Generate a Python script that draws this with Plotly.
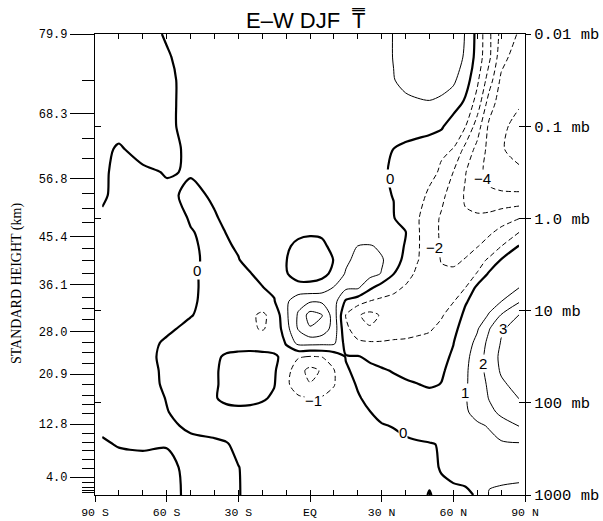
import math
import plotly.graph_objects as go

# Grid of the E-W DJF zonal-mean temperature difference (K)
LAT = [-87, -80, -70, -60, -50, -40, -35, -30, -25, -20, -15, -10, -5, 0, 5,
       10, 15, 20, 25, 30, 35, 40, 45, 50, 55, 60, 65, 70, 75, 80, 87.5]
PRES = [0.01, 0.0178, 0.0316, 0.0562, 0.1, 0.178, 0.316, 0.562, 1.0, 1.41, 2.0,
        2.82, 3.98, 5.62, 7.94, 11.2, 15.8, 22.4, 31.6, 44.7, 63.1, 89.1, 126,
        178, 282, 501, 1000]

T_DIFF = [
    [-0.3, -0.3, -0.2, 0.05, 0.2, 0.3, 0.3, 0.35, 0.35, 0.4, 0.4, 0.45, 0.45, 0.5, 0.5, 0.55, 0.6, 0.65, 0.7, 0.8, 1.02, 1.25, 1.4, 1.5, 1.45, 1.3, 0.98, -0.3, -1.8, -3.3, -4.1],
    [-0.3, -0.3, -0.25, -0.05, 0.2, 0.3, 0.3, 0.35, 0.35, 0.4, 0.4, 0.45, 0.45, 0.5, 0.5, 0.55, 0.6, 0.65, 0.7, 0.8, 1.02, 1.2, 1.3, 1.35, 1.3, 1.2, 0.95, -0.4, -1.8, -3.6, -4.6],
    [-0.3, -0.3, -0.3, -0.1, 0.15, 0.3, 0.3, 0.35, 0.35, 0.4, 0.4, 0.45, 0.45, 0.5, 0.5, 0.55, 0.6, 0.65, 0.7, 0.8, 0.98, 1.15, 1.25, 1.3, 1.2, 1.15, 0.5, -0.8, -2.5, -4.2, -4.7],
    [-0.3, -0.3, -0.3, -0.1, 0.15, 0.3, 0.3, 0.35, 0.35, 0.4, 0.4, 0.45, 0.45, 0.5, 0.5, 0.55, 0.6, 0.65, 0.7, 0.75, 0.8, 0.88, 0.93, 0.96, 0.9, 0.55, -0.2, -1.4, -3.5, -4.5, -4.9],
    [-0.3, -0.3, -0.3, -0.1, 0.15, 0.25, 0.3, 0.3, 0.35, 0.35, 0.4, 0.4, 0.45, 0.45, 0.5, 0.5, 0.5, 0.55, 0.55, 0.55, 0.55, 0.55, 0.5, 0.4, 0.15, -0.6, -0.95, -2.5, -4.2, -4.8, -5.3],
    [-0.2, 0.1, -0.3, -0.15, 0.1, 0.2, 0.25, 0.3, 0.3, 0.35, 0.35, 0.35, 0.35, 0.35, 0.35, 0.35, 0.35, 0.3, 0.25, 0.15, -0.01, -0.25, -0.45, -0.65, -0.85, -1.02, -2.3, -3.3, -4.3, -4.9, -5.4],
    [-0.1, 0.15, 0.15, -0.05, 0.05, 0.15, 0.2, 0.25, 0.25, 0.3, 0.3, 0.3, 0.3, 0.3, 0.3, 0.3, 0.25, 0.2, 0.12, 0.05, -0.05, -0.2, -0.4, -0.7, -1.15, -2.02, -2.95, -3.7, -4.3, -4.6, -4.8],
    [-0.05, 0.1, 0.15, 0.15, -0.15, 0.08, 0.15, 0.2, 0.2, 0.25, 0.25, 0.25, 0.25, 0.25, 0.25, 0.22, 0.2, 0.15, 0.1, 0.05, -0.01, -0.3, -0.6, -1.2, -1.8, -2.4, -3.1, -3.5, -3.8, -3.85, -3.85],
    [0.05, 0.15, 0.2, 0.2, -0.03, -0.05, 0.1, 0.12, 0.15, 0.18, 0.2, 0.2, 0.2, 0.2, 0.2, 0.2, 0.18, 0.15, 0.12, 0.08, 0.03, -0.3, -0.9, -1.6, -2.1, -2.6, -2.9, -2.85, -2.7, -2.4, -2.02],
    [0.1, 0.2, 0.25, 0.25, 0.02, -0.1, 0.01, 0.1, 0.15, 0.15, 0.15, 0.15, 0.15, 0.12, 0.12, 0.12, 0.12, 0.1, 0.08, 0.07, 0.06, 0.03, -0.9, -1.5, -2.15, -2.4, -2.5, -2.45, -2.15, -1.75, -1.02],
    [0.1, 0.2, 0.25, 0.25, 0.05, -0.1, -0.05, 0.05, 0.1, 0.12, 0.1, 0.1, -0.15, -0.3, -0.15, 0.2, 0.4, 1.02, 1.1, 0.8, 0.3, -0.05, -0.9, -1.5, -2.1, -2.3, -2.3, -2.05, -1.6, -1.02, 0.05],
    [0.15, 0.25, 0.3, 0.3, 0.1, -0.15, -0.2, -0.02, 0.15, 0.2, 0.15, 0.02, -0.3, -0.4, -0.3, 0.02, 0.8, 1.3, 1.4, 1.1, 0.45, -0.25, -0.95, -1.5, -2.05, -2.2, -1.95, -1.4, -0.85, 0.05, 0.9],
    [0.15, 0.25, 0.3, 0.3, 0.1, -0.2, -0.3, -0.25, -0.02, 0.15, 0.15, 0.05, -0.3, -0.4, -0.25, 0.2, 1.1, 1.3, 1.35, 0.95, 0.02, -0.6, -1.2, -1.6, -1.85, -1.8, -1.45, -0.95, 0.15, 0.6, 0.95],
    [0.15, 0.25, 0.3, 0.3, 0.1, -0.2, -0.35, -0.4, -0.3, -0.02, 0.15, 0.25, 0.25, 0.3, 0.45, 1.05, 1.2, 1.15, 0.2, -0.45, -0.75, -1.1, -1.4, -1.5, -1.45, -1.25, -1.02, 0.25, 0.6, 0.85, 0.98],
    [0.15, 0.25, 0.3, 0.3, 0.08, -0.2, -0.4, -0.6, -0.6, -0.5, -0.05, 0.8, 1.7, 1.9, 1.85, 1.4, -0.15, -0.6, -1.03, -1.2, -1.3, -1.35, -1.35, -1.3, -1.2, -1.05, -0.1, 0.4, 0.75, 0.98, 1.9],
    [0.15, 0.25, 0.3, 0.3, 0.03, -0.25, -0.45, -0.7, -0.85, -1.15, -0.7, 0.8, 2.1, 3.4, 3.05, 1.5, -1.05, -1.9, -2.3, -1.9, -1.6, -1.4, -1.3, -1.25, -1.1, -0.55, 0.2, 0.65, 1.05, 2.05, 3.02],
    [0.15, 0.25, 0.25, 0.1, -0.15, -0.35, -0.55, -0.75, -0.9, -1.05, -0.8, 0.6, 2.05, 2.9, 2.6, 1.6, -0.8, -1.45, -1.9, -1.75, -1.5, -1.35, -1.2, -1.1, -0.75, -0.2, 0.35, 0.9, 1.95, 2.9, 3.3],
    [0.15, 0.25, 0.2, -0.08, -0.3, -0.4, -0.45, -0.5, -0.5, -0.55, -0.5, 0.05, 1.3, 1.35, 1.3, 1.2, -0.35, -0.85, -0.9, -0.9, -0.85, -0.85, -0.8, -0.7, -0.45, -0.02, 0.55, 1.25, 2.3, 3.05, 3.45],
    [0.15, 0.25, 0.2, -0.15, -0.35, -0.2, 0.15, 0.3, 0.35, 0.3, 0.15, -0.3, -0.9, -1.05, -0.98, -0.6, 0.05, 0.05, -0.15, -0.3, -0.35, -0.4, -0.4, -0.35, -0.2, 0.1, 0.75, 1.45, 2.45, 3.2, 3.5],
    [0.15, 0.25, 0.2, -0.1, -0.35, -0.1, 0.2, 0.35, 0.4, 0.35, 0.1, -0.6, -1.6, -2.3, -1.9, -1.05, -0.1, 0.2, 0.2, 0.08, -0.05, -0.2, -0.3, -0.3, -0.1, 0.25, 0.85, 1.5, 2.4, 3.1, 3.55],
    [0.15, 0.25, 0.25, -0.1, -0.3, -0.1, 0.2, 0.35, 0.4, 0.3, 0.05, -0.8, -1.5, -1.95, -1.7, -1.05, -0.4, 0.1, 0.25, 0.25, 0.2, 0.12, 0.02, -0.1, 0.02, 0.45, 0.9, 1.4, 2.2, 2.85, 3.3],
    [0.15, 0.25, 0.25, -0.02, -0.25, -0.05, 0.15, 0.25, 0.25, 0.12, -0.15, -0.6, -0.85, -0.95, -0.9, -0.75, -0.45, -0.1, 0.25, 0.35, 0.35, 0.35, 0.35, 0.3, 0.4, 0.6, 0.95, 1.35, 2.05, 2.6, 3.02],
    [0.15, 0.25, 0.25, 0.02, -0.2, -0.25, -0.2, -0.2, -0.25, -0.35, -0.45, -0.5, -0.55, -0.55, -0.5, -0.45, -0.35, -0.2, -0.02, 0.2, 0.35, 0.4, 0.45, 0.5, 0.6, 0.75, 0.9, 1.25, 1.75, 2.2, 2.6],
    [0.15, 0.2, 0.25, 0.12, -0.1, -0.2, -0.2, -0.2, -0.25, -0.3, -0.35, -0.35, -0.4, -0.4, -0.35, -0.35, -0.3, -0.25, -0.15, -0.05, 0.03, 0.2, 0.35, 0.45, 0.55, 0.65, 0.8, 0.88, 1.05, 1.6, 2.02],
    [-0.1, 0.05, 0.1, 0.02, 0.15, 0.1, 0.03, -0.1, -0.2, -0.25, -0.25, -0.3, -0.3, -0.3, -0.3, -0.3, -0.3, -0.3, -0.3, -0.25, -0.2, -0.15, -0.1, -0.05, 0.05, 0.3, 0.55, 0.7, 0.8, 0.85, 0.9],
    [-0.3, -0.3, -0.25, -0.1, 0.1, 0.15, 0.1, 0.01, -0.1, -0.15, -0.2, -0.2, -0.2, -0.2, -0.2, -0.2, -0.2, -0.2, -0.2, -0.2, -0.15, -0.15, -0.1, -0.1, 0.03, 0.2, 0.45, 0.65, 0.8, 0.85, 0.9],
    [-0.35, -0.35, -0.3, -0.15, 0.1, 0.15, 0.1, 0.02, -0.1, -0.15, -0.15, -0.15, -0.15, -0.15, -0.15, -0.15, -0.15, -0.15, -0.15, -0.15, -0.15, -0.1, -0.1, 0.02, -0.1, -0.15, -0.2, 0.1, 1.05, 1.08, 1.08],
]

LAT_TICKS = [-90, -60, -30, 0, 30, 60, 90]
LAT_LABELS = ["90 S", "60 S", "30 S", "EQ", "30 N", "60 N", "90 N"]

HEIGHT_LABELS = ["79.9", "68.3", "56.8", "45.4", "36.1", "28.0", "20.9", "12.8", "4.0"]
HEIGHT_LEVEL_P = [0.01, 0.0734, 0.371, 1.574, 5.21, 16.8, 49.0, 170, 638]
MODEL_LEVEL_P = [0.0323, 0.137, 0.225, 0.539, 0.783, 1.11, 2.12, 2.86, 3.96, 7.2,
                 9.47, 12.5, 22.1, 28.3, 37.3, 62.9, 82.7, 104, 130, 213, 267, 326,
                 408, 510, 723, 819, 883, 951]

PRESSURE_TICKS = [0.01, 0.1, 1, 10, 100, 1000]
PRESSURE_LABELS = ["0.01 mb", "0.1 mb", "1.0 mb", "10 mb", "100 mb", "1000 mb"]

# contour level labels: (latitude, pressure in mb, level)
CONTOUR_LABELS = [(-47.3, 3.67, 0), (33.5, 0.37, 0), (38.9, 208, 0), (1.3, 93.8, -1),
                  (72.4, 0.37, -4), (52.3, 2.07, -2), (64.9, 76.7, 1), (72.4, 37.2, 2),
                  (80.8, 15.6, 3)]


def contour_set(start, end, width, dash):
    return go.Contour(
        x=LAT, y=PRES, z=T_DIFF,
        autocontour=False,
        contours=dict(start=start, end=end, size=1, coloring="lines"),
        line=dict(width=width, dash=dash, smoothing=0.8),
        colorscale=[[0, "black"], [1, "black"]],
        showscale=False, hoverinfo="skip",
    )


fig = go.Figure()
fig.add_trace(contour_set(-6, -1, 1, "5px,3px"))   # negative: dashed
fig.add_trace(contour_set(0, 0.5, 2.2, "solid"))   # zero: heavy
fig.add_trace(contour_set(1, 6, 1, "solid"))       # positive: thin
# anchor traces for the auxiliary frame axes
fig.add_trace(go.Scatter(x=[None], y=[None], xaxis="x2", yaxis="y3",
                         showlegend=False, hoverinfo="skip"))
fig.add_trace(go.Scatter(x=[None], y=[None], xaxis="x", yaxis="y2",
                         showlegend=False, hoverinfo="skip"))

mono = "Liberation Mono, Courier New, monospace"
axis_common = dict(showgrid=False, zeroline=False, linecolor="black",
                   tickcolor="black", linewidth=1.2, automargin=False)

annotations = [
    dict(text="E\u2013W DJF  T\u033f", x=0.49, y=1.030, xref="paper", yref="paper",
         xanchor="center", yanchor="middle", showarrow=False,
         font=dict(family="Liberation Sans, Arial", size=22, color="black")),
    dict(text="STANDARD HEIGHT (km)", x=-0.181, y=0.46, xref="paper", yref="paper",
         textangle=-90, xanchor="center", yanchor="middle", showarrow=False,
         font=dict(family="Liberation Serif, Times New Roman", size=14, color="black")),
]
for lat, p, level in CONTOUR_LABELS:
    annotations.append(dict(
        text=str(level).replace("-", "\u2212"), x=lat, y=math.log10(p),
        xref="x", yref="y", showarrow=False, bgcolor="white", borderpad=0,
        font=dict(family="Liberation Sans, Arial", size=15, color="black")))

fig.update_layout(
    width=603, height=521,
    margin=dict(l=95, r=78, t=34, b=26, autoexpand=False),
    paper_bgcolor="white", plot_bgcolor="white",
    showlegend=False,
    xaxis=dict(range=[-90, 90], tickmode="array", tickvals=LAT_TICKS, ticktext=LAT_LABELS,
               ticks="outside", ticklen=6, showline=True,
               tickfont=dict(family=mono, size=11.5, color="black"), **axis_common),
    xaxis2=dict(range=[-90, 90], overlaying="x", side="top", anchor="y",
                tick0=0, dtick=10, ticks="inside", ticklen=5, mirror="ticks",
                showticklabels=False, showline=True, **axis_common),
    yaxis=dict(type="log", range=[3, -2], tickmode="array", tickvals=HEIGHT_LEVEL_P,
               ticktext=HEIGHT_LABELS, ticks="outside", ticklen=24, showline=True,
               minor=dict(tickmode="array", tickvals=MODEL_LEVEL_P, ticks="outside",
                          ticklen=12, tickcolor="black", showgrid=False),
               tickfont=dict(family=mono, size=12, color="black"), **axis_common),
    yaxis2=dict(type="log", range=[3, -2], overlaying="y", side="right", anchor="x",
                tickmode="array", tickvals=PRESSURE_TICKS, ticktext=PRESSURE_LABELS,
                ticks="outside", ticklen=5, showline=True,
                tickfont=dict(family=mono, size=15.5, color="black"), **axis_common),
    yaxis3=dict(type="log", range=[3, -2], overlaying="y", side="left", anchor="x",
                tickmode="array", tickvals=[0.1, 1, 10, 100], ticks="inside", ticklen=6,
                mirror="ticks", showticklabels=False, showline=False,
                showgrid=False, zeroline=False, tickcolor="black", automargin=False),
    annotations=annotations,
)

fig.write_html("out.html")
